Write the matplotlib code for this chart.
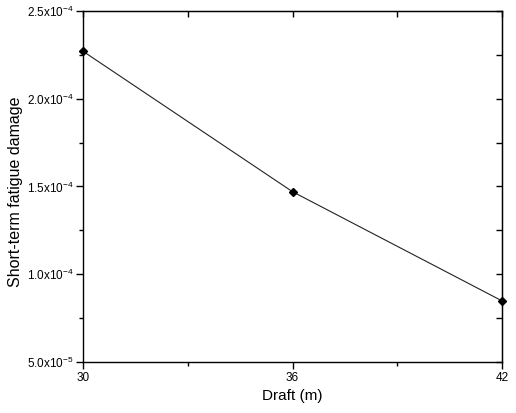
import matplotlib
matplotlib.use('Agg')
import matplotlib.pyplot as plt
from matplotlib.ticker import FixedLocator, FixedFormatter

plt.rcParams['font.family'] = ['Liberation Sans', 'DejaVu Sans']
plt.rcParams['mathtext.default'] = 'regular'

draft = [30, 36, 42]
damage = [2.27e-4, 1.47e-4, 0.848e-4]

xticks = [30, 36, 42]
xminor = [33, 39]
yticks = [0.5e-4, 1.0e-4, 1.5e-4, 2.0e-4, 2.5e-4]
yminor = [0.75e-4, 1.25e-4, 1.75e-4, 2.25e-4]
ylabels = ['5.0x10$^{-5}$', '1.0x10$^{-4}$', '1.5x10$^{-4}$', '2.0x10$^{-4}$', '2.5x10$^{-4}$']

fig = plt.figure(figsize=(5.16, 4.13), dpi=100)
ax = fig.add_axes([0.161, 0.1235, 0.812, 0.85])

ax.plot(draft, damage, color='#222222', lw=0.8, marker='D', ms=4.5,
        mfc='black', mec='black', clip_on=False, zorder=3)

ax.set_xlim(30, 42)
ax.set_ylim(0.5e-4, 2.5e-4)
ax.xaxis.set_major_locator(FixedLocator(xticks))
ax.xaxis.set_minor_locator(FixedLocator(xminor))
ax.yaxis.set_major_locator(FixedLocator(yticks))
ax.yaxis.set_minor_locator(FixedLocator(yminor))
ax.yaxis.set_major_formatter(FixedFormatter(ylabels))

ax.tick_params(which='both', direction='out', width=1, labelsize=8.5, pad=2)
ax.tick_params(which='major', length=5)
ax.tick_params(which='minor', length=3)
for s in ax.spines.values():
    s.set_linewidth(1)

# inward ticks on top and right
top = ax.secondary_xaxis('top')
top.xaxis.set_major_locator(FixedLocator(xticks))
top.xaxis.set_minor_locator(FixedLocator(xminor))
top.tick_params(which='both', direction='in', length=4, width=1, labeltop=False)
right = ax.secondary_yaxis('right')
right.yaxis.set_major_locator(FixedLocator(yticks))
right.yaxis.set_minor_locator(FixedLocator(yminor))
right.tick_params(which='both', direction='in', length=4, width=1, labelright=False)

ax.set_xlabel('Draft (m)', fontsize=11, labelpad=4)
ax.set_ylabel('Short-term fatigue damage', fontsize=11.5)
ax.yaxis.set_label_coords(-0.143, 0.485)

fig.savefig('out.png', dpi=100)
